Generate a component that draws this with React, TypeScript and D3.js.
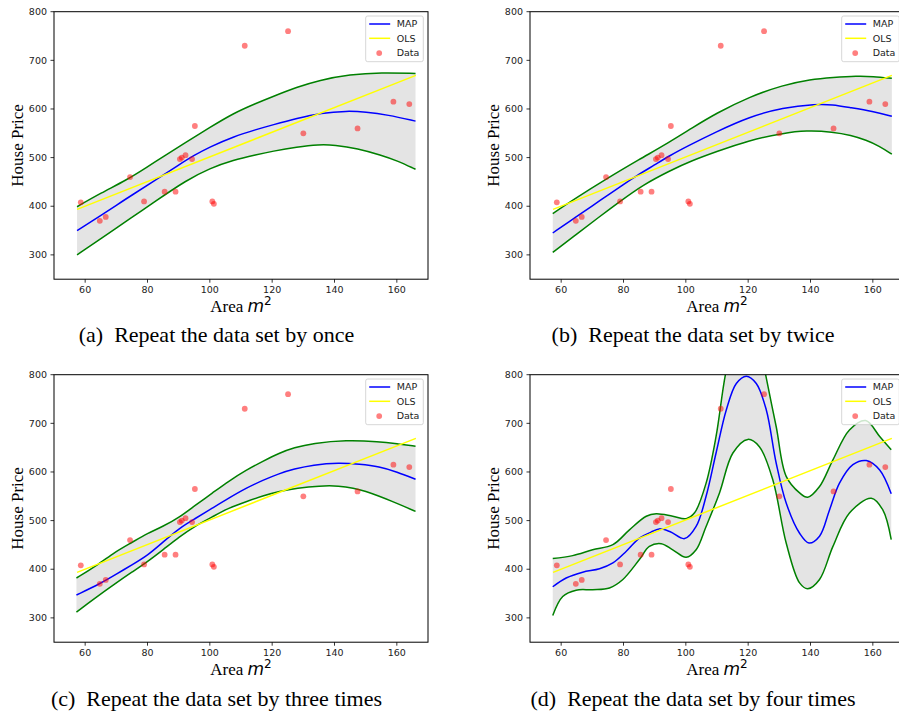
import * as d3 from "d3";

// scatter data (area m^2, price)
const areas = [58.6, 64.7, 66.6, 74.4, 78.9, 85.5, 89.0, 90.4, 91.0, 92.2, 94.3, 95.2, 100.8, 101.3, 111.2, 125.1, 130.0, 147.4, 158.9, 164.0];
const prices = [408, 370, 378, 460, 410, 430, 430, 497, 500, 505, 497, 565, 410, 405, 730, 760, 550, 560, 615, 610];

// ordinary least squares fit, end points
const olsLine: [number, number][] = [[57.4, 393.5], [166.1, 669]];

// (a) once
const mapA: [number, number][] = [[57.4, 350], [65, 381], [70, 402], [75, 423], [82.7, 454], [90, 485], [95, 505], [100, 522], [107.5, 543], [115, 558], [120, 567], [128, 581], [135.7, 592], [144, 596], [150, 594], [157, 588], [166, 575]];
const upperA: [number, number][] = [[57.4, 399], [65, 427], [73.3, 454], [80, 481], [85, 502], [92, 530], [100, 562], [107.5, 591], [115, 612], [120, 625], [128, 645], [135, 659], [145, 671], [155, 675], [166, 673]];
const lowerA: [number, number][] = [[57.4, 300], [65, 333], [75, 377], [82, 408], [92.6, 454], [100, 478], [107.5, 495], [115, 506], [120, 513], [128, 522], [135, 527], [140, 526], [147.4, 519], [155, 505], [160, 494], [166, 476]];

// (b) twice
const mapB: [number, number][] = [[57.3, 345], [65, 379], [70, 401], [75, 423], [80, 445], [84, 462], [90, 485], [94.8, 504], [100, 522], [109.7, 553], [120.4, 584], [131.1, 603], [141.8, 610], [147, 609], [152.5, 603], [160, 595], [166.1, 585]];
const upperB: [number, number][] = [[57.3, 385], [65, 418], [74.2, 455], [85, 496], [94.8, 532], [102, 561], [109.7, 591], [120.4, 625], [131.1, 649], [140, 661], [147.2, 665], [155, 668], [160, 667], [166.1, 663]];
const lowerB: [number, number][] = [[57.3, 305], [65, 343], [72, 377], [78.9, 410], [86, 443], [94.8, 473], [102, 494], [109.7, 512], [120.4, 536], [131.1, 550], [138.6, 556], [147.2, 553], [153, 546], [157.9, 536], [162, 524], [166.1, 507]];

// (c) three times
const mapC: [number, number][] = [[57.2, 347], [65, 371], [70, 390], [75, 409], [80, 428], [85, 456], [90.3, 485], [95, 503], [100.9, 526], [106, 546], [111.7, 567], [117, 583], [122.3, 597], [127, 606], [133, 614.7], [141.6, 619], [148, 616], [154.4, 611], [160, 600], [166, 585]];
const upperC: [number, number][] = [[57.2, 382], [63, 404], [68.9, 433], [75, 455], [80, 474], [85, 488], [90.3, 507], [95, 530], [100.9, 557], [106, 581], [111.7, 604], [117, 622], [122.3, 639], [127, 650], [133, 659], [143.7, 666], [154.4, 662.5], [160, 658], [166, 653]];
const lowerC: [number, number][] = [[57.2, 312], [63, 340], [70, 372], [75, 394], [79.9, 415], [85, 440], [90.3, 467], [95, 488], [100.9, 508], [106, 526], [111.7, 539], [117, 551], [122.3, 560], [128, 567], [135.2, 571.6], [141.6, 571.6], [146, 567], [150.1, 560], [154, 551], [158.7, 539], [162, 530], [166, 519]];

// (d) four times
const mapD: [number, number][] = [[57.3, 364], [61.6, 382], [66.9, 394], [72.3, 401], [76.6, 413], [80.9, 437], [85.1, 464], [89.4, 478], [91.5, 483], [95, 477], [99.6, 463], [103.3, 488], [106.5, 550], [109.7, 639], [113, 728], [116.2, 782], [119.4, 797], [122.6, 782], [125.8, 728], [129, 618], [132.2, 536], [136.5, 474], [139.5, 454], [142.9, 468], [146.1, 522], [149.3, 577], [153.6, 615], [157.9, 623.5], [162.2, 604], [165.9, 555]];
const upperD: [number, number][] = [[57.3, 422], [63.7, 428], [70.1, 440], [76.6, 450.5], [81.9, 481], [87.3, 509], [90.5, 514], [95.8, 509], [100.1, 504], [102.8, 516], [106.5, 577], [109.7, 673], [112.7, 800], [116, 890], [119.5, 927], [123, 890], [125.6, 800], [129, 693], [132.2, 591], [136.5, 557], [139.1, 548], [142.9, 570], [147.2, 625], [152.5, 686.5], [157.7, 705.6], [162.2, 673], [165.9, 645.5]];
const lowerD: [number, number][] = [[57.3, 305], [60.5, 344], [64.8, 357], [70.1, 358], [75.5, 361.6], [79.8, 379], [85.1, 420], [88.3, 447], [92.1, 452.6], [95.8, 440], [100.1, 424.5], [103.3, 440], [106.5, 488], [110.8, 557], [115.1, 639], [119.9, 667], [123.6, 652], [127.9, 584], [132.2, 454], [136.5, 372], [139.1, 360], [142.9, 379], [147.2, 447], [152.5, 515.6], [159.5, 546], [163.2, 522], [165.9, 461]];

const xTicks = [60, 80, 100, 120, 140, 160];
const yTicks = [300, 400, 500, 600, 700, 800];
const legendItems = ["MAP", "OLS", "Data"];

const captions = [
  "Repeat the data set by once",
  "Repeat the data set by twice",
  "Repeat the data set by three times",
  "Repeat the data set by four times",
];

const W = 374;
const H = 267.5;
const SERIF = "'Liberation Serif', 'Times New Roman', serif";
const SANS = "'DejaVu Sans', sans-serif";

const panels = [
  { id: "a", left: 54, top: 11.7, capX: 216.5, capY: 342, map: mapA, upper: upperA, lower: lowerA, curve: d3.curveBasis },
  { id: "b", left: 530, top: 11.7, capX: 693, capY: 342, map: mapB, upper: upperB, lower: lowerB, curve: d3.curveBasis },
  { id: "c", left: 54, top: 374.7, capX: 216.5, capY: 706, map: mapC, upper: upperC, lower: lowerC, curve: d3.curveBasis },
  { id: "d", left: 530, top: 374.7, capX: 693, capY: 706, map: mapD, upper: upperD, lower: lowerD, curve: d3.curveCatmullRom.alpha(0.5) },
];

function Panel({ p, caption }: { p: typeof panels[number]; caption: string }) {
  const x = d3.scaleLinear().domain([50, 170]).range([0, W]);
  const y = d3.scaleLinear().domain([250, 800]).range([H, 0]);

  const line = d3
    .line<[number, number]>()
    .x((d) => x(d[0]))
    .y((d) => y(d[1]))
    .curve(p.curve);

  // shaded band: along upper, back along lower
  const bandPath =
    line(p.upper)! + "L" + line([...p.lower].reverse())!.slice(1) + "Z";

  const clipId = "clip-" + p.id;

  return (
    <g transform={`translate(${p.left},${p.top})`}>
      <defs>
        <clipPath id={clipId}>
          <rect x={0} y={0} width={W} height={H} />
        </clipPath>
      </defs>
      <g clipPath={`url(#${clipId})`}>
        <path d={bandPath} fill="#e4e4e4" stroke="none" />
        <path d={line(p.upper)!} fill="none" stroke="green" strokeWidth={1.5} />
        <path d={line(p.lower)!} fill="none" stroke="green" strokeWidth={1.5} />
        <path d={line(p.map)!} fill="none" stroke="blue" strokeWidth={1.5} />
        <path
          d={d3.line<[number, number]>().x((d) => x(d[0])).y((d) => y(d[1]))(olsLine)!}
          fill="none"
          stroke="yellow"
          strokeWidth={1.5}
        />
        {areas.map((a, i) => (
          <circle key={i} cx={x(a)} cy={y(prices[i])} r={2.9} fill="red" fillOpacity={0.5} />
        ))}
      </g>
      <rect x={0} y={0} width={W} height={H} fill="none" stroke="#000" strokeWidth={1} />
      {xTicks.map((t) => (
        <g key={t} transform={`translate(${x(t)},${H})`}>
          <line y2={3.5} stroke="#000" strokeWidth={0.8} />
          <text y={14} textAnchor="middle" fontFamily={SANS} fontSize={9.5} fill="#222">
            {t}
          </text>
        </g>
      ))}
      {yTicks.map((t) => (
        <g key={t} transform={`translate(0,${y(t)})`}>
          <line x2={-3.5} stroke="#000" strokeWidth={0.8} />
          <text x={-7} dy="0.34em" textAnchor="end" fontFamily={SANS} fontSize={9.5} fill="#222">
            {t}
          </text>
        </g>
      ))}
      <text
        transform={`translate(${-31},${H / 2}) rotate(-90)`}
        textAnchor="middle"
        fontFamily={SERIF}
        fontSize={17}
        fill="#000"
      >
        House Price
      </text>
      <text x={W / 2} y={H + 32.5} textAnchor="middle" fontFamily={SERIF} fontSize={17} fill="#000">
        <tspan>Area </tspan>
        <tspan fontFamily={SANS} fontStyle="italic">m</tspan>
        <tspan fontFamily={SANS} fontSize={12} dy={-7}>2</tspan>
      </text>
      {/* legend */}
      <g transform={`translate(${W - 62.3},${4.3})`}>
        <rect width={57.6} height={45.7} rx={2} fill="#fff" fillOpacity={0.8} stroke="#ccc" strokeWidth={0.8} />
        {legendItems.map((name, i) => (
          <g key={name} transform={`translate(0,${8 + i * 14.3})`}>
            {i === 2 ? (
              <circle cx={13.5} cy={0.5} r={2.9} fill="red" fillOpacity={0.5} />
            ) : (
              <line x1={3.5} x2={24.5} stroke={i === 0 ? "blue" : "yellow"} strokeWidth={1.5} />
            )}
            <text x={31} dy="0.35em" fontFamily={SANS} fontSize={9.5} fill="#222">
              {name}
            </text>
          </g>
        ))}
      </g>
      <text
        x={p.capX - p.left}
        y={p.capY - p.top}
        textAnchor="middle"
        fontFamily={SERIF}
        fontSize={22}
        fill="#000"
      >
        {`(${p.id})\u2002${caption}`}
      </text>
    </g>
  );
}

export default function App() {
  return (
    <svg
      width={899}
      height={713}
      style={{ position: "absolute", left: 0, top: 0, background: "#fff" }}
    >
      {panels.map((p, i) => (
        <Panel key={p.id} p={p} caption={captions[i]} />
      ))}
    </svg>
  );
}
